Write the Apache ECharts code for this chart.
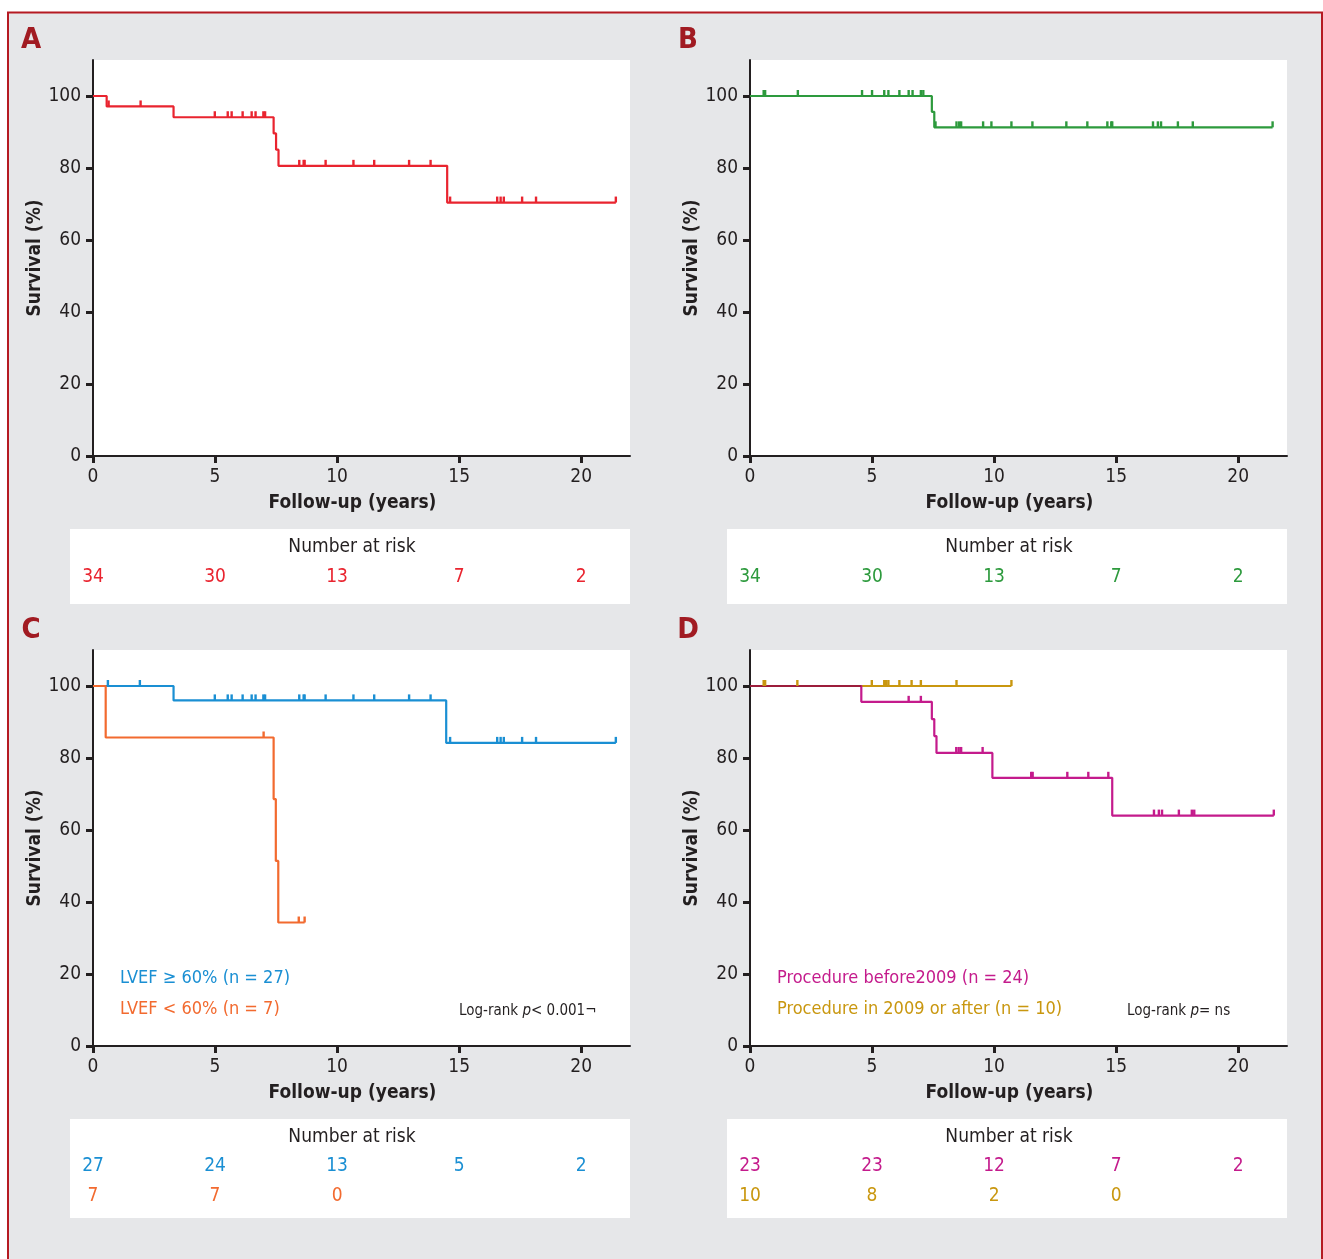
<!DOCTYPE html>
<html>
<head>
<meta charset="utf-8">
<script src="https://cdn.jsdelivr.net/npm/echarts@6/dist/echarts.min.js"></script>
<style>
html,body{margin:0;padding:0;background:#fff;}
#main{width:1323px;height:1259px;}
</style>
</head>
<body>
<div id="main"></div>
<script>
// ---------- data ----------
const xTicks = [0, 5, 10, 15, 20];
const yTicks = [0, 20, 40, 60, 80, 100];

// Panel A (all patients)
const stepsA = [[0,100],[0.56,97.1],[3.30,94.1],[7.40,89.6],[7.50,85.1],[7.60,80.6],[14.51,70.4],[21.42,70.4]];
const censorA = [0.64,1.95,4.99,5.52,5.68,6.13,6.50,6.66,6.98,7.05,8.45,8.63,8.67,9.53,10.67,11.52,12.95,13.83,14.63,16.56,16.70,16.83,17.58,18.15,21.42];
const riskA = [34,30,13,7,2];

// Panel B
const stepsB = [[0,100],[7.45,95.6],[7.55,91.3],[21.41,91.3]];
const censorB = [0.56,0.62,1.96,4.59,5.0,5.5,5.67,6.12,6.50,6.66,7.0,7.1,7.60,8.46,8.57,8.65,9.55,9.89,10.71,11.57,12.96,13.82,14.64,14.80,14.84,16.51,16.71,16.84,17.53,18.14,21.41];
const riskB = [34,30,13,7,2];

// Panel C
const stepsC1 = [[0,100],[3.30,96.0],[14.47,84.2],[21.42,84.2]];
const censorC1 = [0.61,1.92,4.99,5.52,5.68,6.13,6.50,6.66,6.98,7.05,8.45,8.63,8.67,9.53,10.67,11.52,12.95,13.83,14.63,16.56,16.70,16.83,17.58,18.15,21.42];
const stepsC2 = [[0,100],[0.52,85.7],[7.40,68.6],[7.49,51.4],[7.59,34.3],[8.67,34.3]];
const censorC2 = [6.99,8.43,8.67];
const riskC1 = [27,24,13,5,2];
const riskC2 = [7,7,0];
const namesC = ['LVEF \u2265 60% (n = 27)', 'LVEF < 60% (n = 7)'];

// Panel D
const stepsD1 = [[0,100],[4.56,95.6],[7.45,90.8],[7.55,86.1],[7.64,81.4],[9.93,74.5],[14.84,64.0],[21.46,64.0]];
const censorD1 = [6.50,7.0,8.45,8.55,8.65,9.53,11.52,11.58,13.0,13.86,14.68,16.55,16.75,16.88,17.57,18.10,18.20,21.46];
const stepsD2 = [[0,100],[10.71,100]];
const censorD2 = [0.56,0.62,1.94,4.99,5.50,5.58,5.67,6.12,6.62,7.0,8.46,10.71];
const riskD1 = [23,23,12,7,2];
const riskD2 = [10,8,2,0];
const namesD = ['Procedure before2009 (n = 24)', 'Procedure in 2009 or after (n = 10)'];

// ---------- styles ----------
const FONT = "'DejaVu Sans Condensed','Liberation Sans Narrow','Liberation Sans',Arial,sans-serif";
const INK = '#231f20';
const C = {
  red: '#e9242f', green: '#2d9a3d', blue: '#1a8fd3', orange: '#f26a2f',
  magenta: '#c41b8c', gold: '#c9970f', overlap: '#9c1d3b',
  letter: '#a11b22', border: '#b51a22', bg: '#e6e7e9'
};

const panels = [
  {left: 93,  top: 60,  riskTop: 577,  boxTop: 529, boxH: 75},
  {left: 750, top: 60,  riskTop: 577,  boxTop: 529, boxH: 75},
  {left: 93,  top: 650, riskTop: 1166, boxTop: 1119, boxH: 99},
  {left: 750, top: 650, riskTop: 1166, boxTop: 1119, boxH: 99}
];
const PW = 537, PH = 396;

function survAt(steps, t) {
  let v = steps[0][1];
  for (const s of steps) { if (s[0] <= t + 1e-9) v = s[1]; }
  return v;
}

const grid = [], xAxis = [], yAxis = [], series = [], graphic = [];

panels.forEach((p, i) => {
  grid.push({left: p.left, top: p.top, width: PW, height: PH, show: true, backgroundColor: '#fff', borderWidth: 0, z: 0});
  xAxis.push({
    gridIndex: i, type: 'value', min: 0, max: 22,
    axisLine: {show: true, onZero: false, lineStyle: {color: INK, width: 2}},
    axisTick: {show: true, customValues: xTicks, length: 7, lineStyle: {color: INK, width: 3}},
    axisLabel: {customValues: xTicks, fontSize: 19, color: INK, margin: 12, fontFamily: FONT},
    splitLine: {show: false},
    name: 'Follow-up (years)', nameLocation: 'middle', nameGap: 38,
    nameTextStyle: {fontSize: 19, fontWeight: 'bold', color: INK, fontFamily: FONT, padding: [0, 18, 0, 0]}
  });
  yAxis.push({
    gridIndex: i, type: 'value', min: 0, max: 110,
    axisLine: {show: true, onZero: false, lineStyle: {color: INK, width: 2}},
    axisTick: {show: true, customValues: yTicks, length: 7, lineStyle: {color: INK, width: 3}},
    axisLabel: {customValues: yTicks, fontSize: 19, color: INK, margin: 12, fontFamily: FONT},
    splitLine: {show: false},
    name: 'Survival (%)', nameLocation: 'middle', nameGap: 39,
    nameTextStyle: {fontSize: 19, fontWeight: 'bold', color: INK, fontFamily: FONT}
  });
});
// risk-table grids
panels.forEach((p, i) => {
  grid.push({left: p.left, top: p.riskTop, width: PW, height: 30, show: false});
  xAxis.push({gridIndex: 4 + i, type: 'value', min: 0, max: 22, show: false});
  yAxis.push({gridIndex: 4 + i, type: 'value', min: 0, max: 1, inverse: true, show: false});
});

function addCurve(gi, steps, censor, color, name, z) {
  series.push({
    type: 'line', name: name, xAxisIndex: gi, yAxisIndex: gi, data: steps, step: 'end',
    symbol: 'none', lineStyle: {color: color, width: 2.2}, itemStyle: {color: color}, z: z || 3, silent: true
  });
  series.push({
    type: 'scatter', xAxisIndex: gi, yAxisIndex: gi,
    data: censor.map(t => [t, survAt(steps, t)]),
    symbol: 'rect', symbolSize: [2.4, 6], symbolOffset: [0, -3],
    itemStyle: {color: color, opacity: 1}, z: 4, silent: true
  });
}
function addRisk(pi, row, values, color) {
  series.push({
    type: 'scatter', xAxisIndex: 4 + pi, yAxisIndex: 4 + pi,
    data: values.map((v, k) => [xTicks[k], row, v]),
    symbolSize: 2, itemStyle: {color: 'rgba(255,255,255,0)', opacity: 1}, silent: true, z: 6,
    label: {show: true, position: 'inside', formatter: q => String(q.value[2]), color: color, fontSize: 19, fontFamily: FONT}
  });
}

addCurve(0, stepsA, censorA, C.red, 'A');
addCurve(1, stepsB, censorB, C.green, 'B');
addCurve(2, stepsC1, censorC1, C.blue, namesC[0]);
addCurve(2, stepsC2, censorC2, C.orange, namesC[1]);
addCurve(3, stepsD2, censorD2, C.gold, namesD[1]);
addCurve(3, stepsD1, censorD1, C.magenta, namesD[0]);
// where both D curves run together at 100% the printed lines blend to a dark maroon
series.push({
  type: 'line', xAxisIndex: 3, yAxisIndex: 3, step: 'end', symbol: 'none', silent: true, z: 3.5,
  data: [stepsD1[0], [stepsD1[1][0], stepsD1[0][1]]],
  lineStyle: {color: C.overlap, width: 2.2}
});

addRisk(0, 0, riskA, C.red);
addRisk(1, 0, riskB, C.green);
addRisk(2, 0, riskC1, C.blue);
addRisk(2, 1, riskC2, C.orange);
addRisk(3, 0, riskD1, C.magenta);
addRisk(3, 1, riskD2, C.gold);

// decorations
graphic.push({type: 'rect', z: -2, shape: {x: 8, y: 12.5, width: 1314, height: 1300},
  style: {fill: C.bg, stroke: C.border, lineWidth: 2}});
panels.forEach((p, i) => {
  graphic.push({type: 'rect', z: -1, shape: {x: p.left - 23, y: p.boxTop, width: PW + 23, height: p.boxH}, style: {fill: '#fff'}});
  graphic.push({type: 'text', z: 5, x: p.left + 259, y: p.boxTop + 18,
    style: {text: 'Number at risk', fill: INK, font: '19px ' + FONT, textAlign: 'center', textVerticalAlign: 'middle'}});
  graphic.push({type: 'text', z: 5, x: p.left - 62, y: p.top - 20,
    style: {text: 'ABCD'[i], fill: C.letter, font: 'bold 29px ' + FONT, textAlign: 'center', textVerticalAlign: 'middle'}});
});
// legends C & D
[[2, namesC, [C.blue, C.orange], 'Log-rank ', '< 0.001\u00ac', 459],
 [3, namesD, [C.magenta, C.gold], 'Log-rank ', '= ns', 1127]].forEach(([pi, names, cols, lr, tail, lx]) => {
  const p = panels[pi];
  names.forEach((n, k) => {
    graphic.push({type: 'text', z: 5, x: p.left + 27, y: 978 + 31 * k,
      style: {text: n, fill: cols[k], font: '18px ' + FONT, textVerticalAlign: 'middle'}});
  });
  graphic.push({type: 'text', z: 5, x: lx, y: 1011,
    style: {text: '{a|' + lr + '}{b|p}{a|' + tail + '}', textVerticalAlign: 'middle',
      rich: {a: {fontSize: 15, fontFamily: FONT, fill: INK, color: INK}, b: {fontSize: 15, fontFamily: FONT, fontStyle: 'italic', fill: INK, color: INK}}}});
});

const chart = echarts.init(document.getElementById('main'), null, {renderer: 'canvas'});
chart.setOption({
  animation: false,
  backgroundColor: '#fff',
  textStyle: {fontFamily: FONT},
  grid, xAxis, yAxis, series, graphic
});
</script>
</body>
</html>
